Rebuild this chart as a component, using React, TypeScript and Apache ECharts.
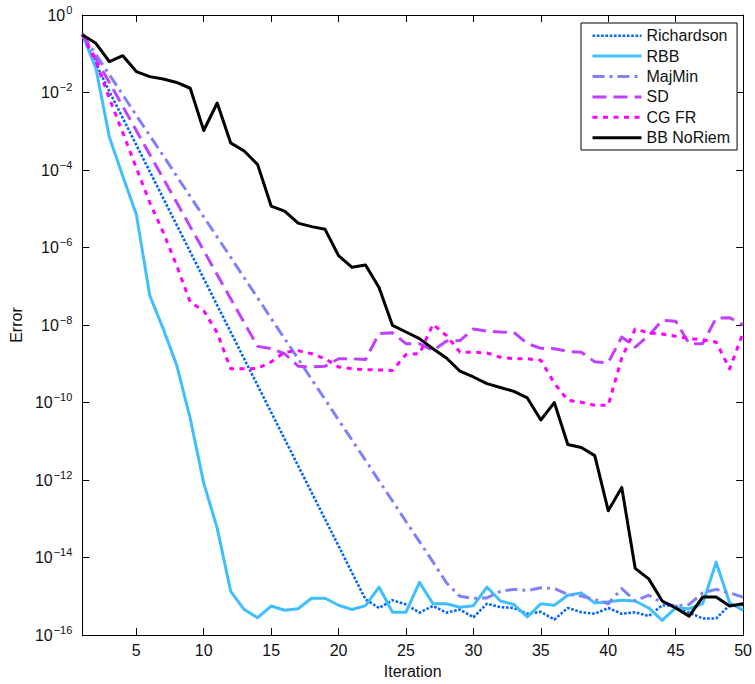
import React, { useEffect, useRef } from "react";
import * as echarts from "echarts";

// Iteration numbers (x)
const iterations = [
  1, 2, 3, 4, 5, 6, 7, 8, 9, 10, 11, 12, 13, 14, 15, 16, 17, 18, 19, 20,
  21, 22, 23, 24, 25, 26, 27, 28, 29, 30, 31, 32, 33, 34, 35, 36, 37, 38, 39, 40,
  41, 42, 43, 44, 45, 46, 47, 48, 49, 50,
];

// log10(Error) for each method
const richardson = [
  -0.51, -1.25, -1.97, -2.66, -3.35, -4.04, -4.73, -5.42, -6.11, -6.8,
  -7.49, -8.18, -8.87, -9.56, -10.25, -10.94, -11.63, -12.32, -13.01, -13.7,
  -14.39, -15.08, -15.3, -15.1, -15.21, -15.42, -15.25, -15.42, -15.34, -15.54,
  -15.19, -15.28, -15.3, -15.45, -15.4, -15.6, -15.3, -15.41, -15.45, -15.3,
  -15.45, -15.41, -15.51, -15.23, -15.25, -15.42, -15.57, -15.57, -15.23, -15.23,
];
const rbb = [
  -0.5, -1.37, -3.15, -4.16, -5.14, -7.24, -8.1, -9.04, -10.41, -12.08,
  -13.24, -14.87, -15.34, -15.55, -15.25, -15.36, -15.32, -15.05, -15.05, -15.23,
  -15.34, -15.24, -14.76, -15.41, -15.41, -14.64, -15.19, -15.19, -15.28, -15.24,
  -14.76, -15.12, -15.21, -15.53, -15.19, -15.23, -14.97, -14.91, -15.17, -15.14,
  -15.1, -15.12, -15.3, -15.62, -15.3, -15.32, -15.19, -14.12, -15.17, -15.36,
];
const majMin = [
  -0.49, -1.01, -1.54, -2.06, -2.59, -3.11, -3.63, -4.16, -4.68, -5.21,
  -5.73, -6.25, -6.78, -7.3, -7.83, -8.35, -8.87, -9.4, -9.92, -10.45,
  -10.97, -11.49, -12.02, -12.54, -13.07, -13.59, -14.11, -14.65, -15.0, -15.05,
  -15.04, -14.87, -14.82, -14.85, -14.78, -14.8, -14.95, -14.99, -15.08, -15.19,
  -14.8, -15.12, -14.97, -15.17, -15.25, -15.21, -14.91, -14.82, -14.91, -15.02,
];
const sd = [
  -0.5, -1.12, -1.74, -2.36, -2.98, -3.6, -4.22, -4.84, -5.46, -6.08,
  -6.7, -7.32, -7.94, -8.55, -8.61, -8.74, -9.06, -9.08, -9.06, -8.87,
  -8.87, -8.89, -8.22, -8.2, -8.48, -8.48, -8.66, -8.41, -8.4, -8.1,
  -8.16, -8.18, -8.19, -8.48, -8.6, -8.61, -8.68, -8.7, -8.95, -8.97,
  -8.31, -8.57, -8.27, -7.88, -7.9, -8.48, -8.48, -7.82, -7.81, -8.0,
];
const cgFr = [
  -0.5, -1.2, -2.15, -3.04, -3.94, -4.84, -5.61, -6.47, -7.41, -7.63,
  -8.2, -9.13, -9.13, -9.12, -8.95, -8.7, -8.66, -8.74, -8.87, -9.08,
  -9.13, -9.15, -9.16, -9.17, -8.76, -8.74, -7.98, -8.27, -8.7, -8.7,
  -8.72, -8.83, -8.87, -8.87, -8.91, -9.5, -9.94, -9.99, -10.07, -10.07,
  -8.85, -8.1, -8.2, -8.23, -8.29, -8.35, -8.38, -8.44, -9.13, -8.2,
];
const bbNoRiem = [
  -0.51, -0.73, -1.2, -1.05, -1.46, -1.59, -1.65, -1.74, -1.89, -2.98,
  -2.27, -3.3, -3.51, -3.86, -4.93, -5.06, -5.37, -5.46, -5.53, -6.21,
  -6.51, -6.45, -7.03, -8.01, -8.18, -8.35, -8.61, -8.85, -9.19, -9.34,
  -9.51, -9.61, -9.71, -9.88, -10.45, -10.0, -11.08, -11.16, -11.37, -12.79,
  -12.19, -14.28, -14.55, -15.12, -15.3, -15.51, -15.02, -15.02, -15.25, -15.19,
];

const seriesNames = ["Richardson", "RBB", "MajMin", "SD", "CG FR", "BB NoRiem"];
const xTicks = [5, 10, 15, 20, 25, 30, 35, 40, 45, 50];
const yTickExponents = [0, -2, -4, -6, -8, -10, -12, -14, -16];

export default function App() {
  const ref = useRef<HTMLDivElement>(null);

  useEffect(() => {
    if (!ref.current) return;
    const chart = echarts.init(ref.current, null, { renderer: "svg" });
    const font = "'Liberation Sans', Arial, Helvetica, sans-serif";
    const axisColor = "#000";
    const textColor = "#111";

    const mk = (name: string, vals: number[], color: string, width: number, dash: any) => ({
      name,
      type: "line",
      data: iterations.map((x, i) => [x, vals[i]]),
      symbol: "none",
      showSymbol: false,
      silent: true,
      clip: true,
      emphasis: { disabled: true },
      itemStyle: { color },
      lineStyle: { color, width, type: dash, cap: "butt", join: "round" },
    });

    const tickStyle = { show: true, inside: true, length: 7, lineStyle: { color: axisColor, width: 1 } };

    chart.setOption({
      animation: false,
      backgroundColor: "#fff",
      textStyle: { fontFamily: font },
      grid: { left: 77, right: 9, top: 15, bottom: 47, containLabel: false },
      legend: {
        data: seriesNames,
        orient: "vertical",
        left: 581,
        top: 23,
        itemWidth: 49,
        itemHeight: 18,
        itemGap: 2.4,
        padding: [3.7, 7, 3.3, 10],
        borderColor: "#000",
        borderWidth: 1,
        borderRadius: 0,
        backgroundColor: "#fff",
        selectedMode: false,
        align: "left",
        itemStyle: { color: "rgba(0,0,0,0)", borderWidth: 0, borderColor: "rgba(0,0,0,0)" },
        lineStyle: { width: "inherit", type: "inherit", color: "inherit" },
        textStyle: { fontSize: 16, lineHeight: 18, color: textColor, fontFamily: font },
      },
      xAxis: [
        {
          type: "value",
          min: 1,
          max: 50,
          position: "bottom",
          name: "Iteration",
          nameLocation: "middle",
          nameGap: 26,
          nameTextStyle: { fontSize: 16, color: textColor, fontFamily: font },
          axisLine: { show: true, onZero: false, lineStyle: { color: axisColor, width: 1 } },
          axisTick: { ...tickStyle, customValues: xTicks },
          axisLabel: { customValues: xTicks, fontSize: 16, color: textColor, margin: 7, fontFamily: font },
          splitLine: { show: false },
        },
        {
          type: "value",
          min: 1,
          max: 50,
          position: "top",
          axisLine: { show: true, onZero: false, lineStyle: { color: axisColor, width: 1 } },
          axisTick: { ...tickStyle, customValues: xTicks },
          axisLabel: { show: false, customValues: xTicks },
          splitLine: { show: false },
        },
      ],
      yAxis: [
        {
          type: "value",
          min: -16,
          max: 0,
          interval: 2,
          position: "left",
          name: "Error",
          nameLocation: "middle",
          nameGap: 50,
          nameTextStyle: { fontSize: 16, color: textColor, fontFamily: font },
          axisLine: { show: true, onZero: false, lineStyle: { color: axisColor, width: 1 } },
          axisTick: tickStyle,
          axisLabel: {
            margin: 10,
            color: textColor,
            formatter: (v: number) => {
              const e = Math.round(v);
              if (yTickExponents.indexOf(e) < 0) return "";
              const s = e === 0 ? "0" : "\u2212" + String(-e);
              return "{b|10}{s|" + s + "}";
            },
            rich: {
              b: { fontSize: 16, lineHeight: 22, color: textColor, fontFamily: font },
              s: { fontSize: 11, lineHeight: 12, verticalAlign: "top", color: textColor, fontFamily: font, padding: [0, 0, 0, 1] },
            },
          },
          splitLine: { show: false },
        },
        {
          type: "value",
          min: -16,
          max: 0,
          interval: 2,
          position: "right",
          axisLine: { show: true, onZero: false, lineStyle: { color: axisColor, width: 1 } },
          axisTick: tickStyle,
          axisLabel: { show: false },
          splitLine: { show: false },
        },
      ],
      series: [
        mk(seriesNames[0], richardson, "#0066ff", 2.6, [2.6, 1.7]),
        mk(seriesNames[1], rbb, "#40bfff", 3, "solid"),
        mk(seriesNames[2], majMin, "#8080ff", 3, [12, 5, 3, 5]),
        mk(seriesNames[3], sd, "#bf40ff", 3, [14, 7]),
        mk(seriesNames[4], cgFr, "#ff00ff", 3, [5, 5.5]),
        mk(seriesNames[5], bbNoRiem, "#000000", 3, "solid"),
      ],
    });

    return () => {
      chart.dispose();
    };
  }, []);

  return (
    <div
      ref={ref}
      style={{ position: "absolute", left: 0, top: 0, width: 755, height: 684 }}
    />
  );
}
